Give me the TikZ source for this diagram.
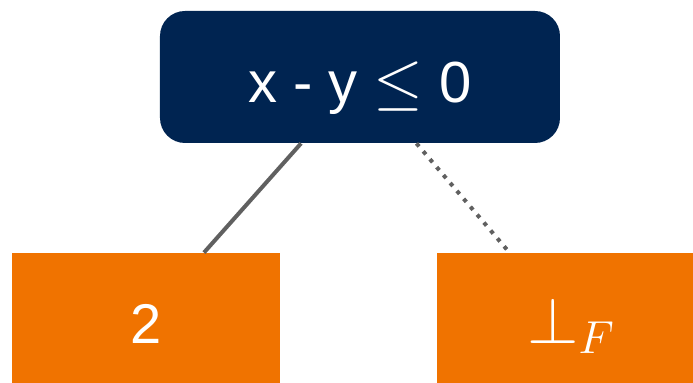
\RequirePackage{fix-cm}
\documentclass[tikz,border=0pt]{standalone}
\usepackage{fontspec}
\setmainfont{Liberation Sans}
\usetikzlibrary{positioning}
\usepackage{xcolor}
\definecolor{navy}{RGB}{0,36,81}
\definecolor{leaforange}{RGB}{240,115,0}
\definecolor{edgegray}{RGB}{96,96,96}

\begin{document}
\begin{tikzpicture}[x=0.5pt, y=-0.5pt,
  cnd/.style={fill=navy, rounded corners=12.5pt, minimum width=200pt, minimum height=66pt,
              inner sep=0pt, text=white, text height=26pt, text depth=0pt,
              font=\fontsize{29}{34}\selectfont},
  leaf/.style={fill=leaforange, minimum height=65pt, inner sep=0pt, text=white,
               text height=26pt, text depth=0pt, font=\fontsize{28}{34}\selectfont},
  edge/.style={line width=2pt, edgegray},
]
  \useasboundingbox (0,0) rectangle (693,383);
  % decision node and its two leaves
  \node[cnd] (cond) at (360,77) {x - y {\fontsize{32}{38}\selectfont$\leq$} 0};
  \node[leaf, minimum width=134pt] (lt) at (146,318) {2};
  \node[leaf, minimum width=128pt] (rt) at (565,318) {\hspace*{6pt}{\fontsize{33}{40}\selectfont$\bot_F$}};
  \draw[edge] (cond) -- (lt);
  \draw[edge, dash pattern=on 2pt off 3.2pt] (cond) -- (rt);
\end{tikzpicture}
\end{document}
